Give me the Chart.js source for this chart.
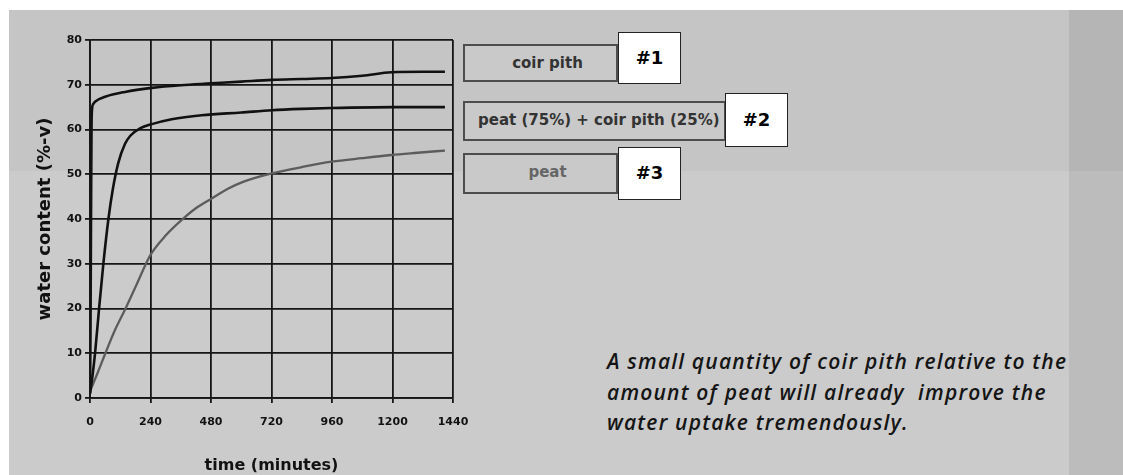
<!DOCTYPE html>
<html>
<head>
<meta charset="utf-8">
<script src="https://cdn.jsdelivr.net/npm/chart.js@4.4.1/dist/chart.umd.min.js"></script>
<style>
  html,body{margin:0;padding:0;}
  body{width:1123px;height:475px;position:relative;overflow:hidden;background:#fff;font-family:"DejaVu Sans",sans-serif;}
  .bg{position:absolute;}
  #chartBox{position:absolute;left:0;top:0;width:490px;height:475px;}
  .lg{position:absolute;box-sizing:border-box;border:2px solid #4d4d4d;background:#c9c9c9;
      font-weight:bold;font-size:15px;line-height:34px;color:#333;}
  .tag{position:absolute;box-sizing:border-box;border:1.5px solid #222;background:#fff;
       font-weight:bold;font-size:18px;color:#000;text-align:center;}
  #note{position:absolute;left:607px;top:346px;font-family:"Open Sans",sans-serif;font-style:italic;
        font-weight:600;font-size:21px;letter-spacing:1.2px;line-height:30.5px;color:#151515;white-space:nowrap;}
</style>
</head>
<body>
<div class="bg" style="left:9px;top:10px;width:1060px;height:161px;background:#c5c5c5"></div>
<div class="bg" style="left:9px;top:171px;width:1060px;height:304px;background:#cbcbcb"></div>
<div class="bg" style="left:1069px;top:10px;width:54px;height:161px;background:#b5b5b5"></div>
<div class="bg" style="left:1069px;top:171px;width:54px;height:304px;background:#bcbcbc"></div>

<div id="chartBox"><canvas id="chartWater"></canvas></div>

<div class="lg" style="left:463px;top:44px;width:155px;height:38px;text-align:center;padding-left:14px">coir pith</div>
<div class="tag" style="left:618px;top:32px;width:63px;height:52px;line-height:49px">#1</div>
<div class="lg" style="left:463px;top:101px;width:263px;height:40px;padding-left:13px">peat (75%) + coir pith (25%)</div>
<div class="tag" style="left:725px;top:93px;width:63px;height:54px;line-height:51px">#2</div>
<div class="lg" style="left:463px;top:153px;width:155px;height:41px;text-align:center;padding-left:14px;color:#666">peat</div>
<div class="tag" style="left:618px;top:147px;width:63px;height:53px;line-height:50px">#3</div>

<div id="note">A small quantity of coir pith relative to the<br>amount of peat will already&nbsp; improve the<br>water uptake tremendously.</div>

<script>
// Wateropname over tijd
var timeTicks = [0, 240, 480, 720, 960, 1200, 1440];

var coirTime  = [0, 2, 4, 6, 8, 12, 20, 60, 139, 245, 360, 480, 600, 721, 840, 959, 1080, 1196, 1320, 1408];
var coirValue = [1, 15, 40, 60, 64.5, 65.6, 66.2, 67.3, 68.4, 69.3, 69.9, 70.3, 70.7, 71.1, 71.3, 71.5, 72, 72.8, 72.9, 72.9];

var mixTime  = [0, 10, 20, 36, 53, 73, 90, 112, 139, 160, 200, 245, 324, 443, 600, 721, 840, 959, 1200, 1408];
var mixValue = [1, 5, 10, 20, 30, 40, 46.5, 52.5, 56.8, 58.6, 60.3, 61.2, 62.3, 63.2, 63.8, 64.3, 64.6, 64.8, 65, 65];

var peatTime  = [0, 30, 61, 100, 141, 182, 222, 240, 300, 364, 420, 483, 545, 607, 721, 840, 959, 1080, 1196, 1300, 1408];
var peatValue = [1.5, 5.6, 10, 15.3, 20, 25, 30, 32, 36.3, 39.8, 42.4, 44.6, 46.7, 48.3, 50.2, 51.6, 52.8, 53.6, 54.3, 54.8, 55.3];

function pts(xs, ys){ return xs.map(function(x, i){ return {x:x, y:ys[i]}; }); }

var tickFont = {family:'DejaVu Sans', size:11, weight:'bold'};
var gridCfg = {color:'#161616', lineWidth:1.8, tickLength:5, tickColor:'#161616', tickWidth:1.8};

new Chart(document.getElementById('chartWater'), {
  type:'line',
  data:{
    datasets:[
      {label:'coir pith', data:pts(coirTime, coirValue), borderColor:'#111', borderWidth:2.6},
      {label:'peat (75%) + coir pith (25%)', data:pts(mixTime, mixValue), borderColor:'#111', borderWidth:2.6},
      {label:'peat', data:pts(peatTime, peatValue), borderColor:'#5c5c5c', borderWidth:2.3}
    ]
  },
  options:{
    responsive:true, maintainAspectRatio:false, animation:false,
    layout:{padding:{top:40, right:37, left:0, bottom:0}},
    elements:{point:{radius:0}, line:{cubicInterpolationMode:'monotone', fill:false}},
    plugins:{legend:{display:false}, tooltip:{enabled:false}},
    scales:{
      x:{
        type:'linear', min:0, max:1440,
        afterBuildTicks:function(s){ s.ticks = timeTicks.map(function(v){ return {value:v}; }); },
        afterFit:function(s){ s.height = 77; },
        ticks:{color:'#111', font:tickFont, padding:13, maxRotation:0, autoSkip:false,
               callback:function(v){ return String(v); }},
        grid:gridCfg, border:{color:'#161616', width:1.8},
        title:{display:true, text:'time (minutes)', color:'#111', font:{family:'DejaVu Sans', size:16, weight:'bold'}, padding:{top:0, bottom:0}}
      },
      y:{
        min:0, max:80,
        afterFit:function(s){ s.width = 90; },
        ticks:{stepSize:10, color:'#111', font:tickFont, padding:3},
        grid:gridCfg, border:{color:'#161616', width:1.8},
        title:{display:true, text:'water content (%-v)', color:'#111', font:{family:'DejaVu Sans', size:18, weight:'bold'}, padding:{top:35, bottom:0}}
      }
    }
  }
});
</script>
</body>
</html>
